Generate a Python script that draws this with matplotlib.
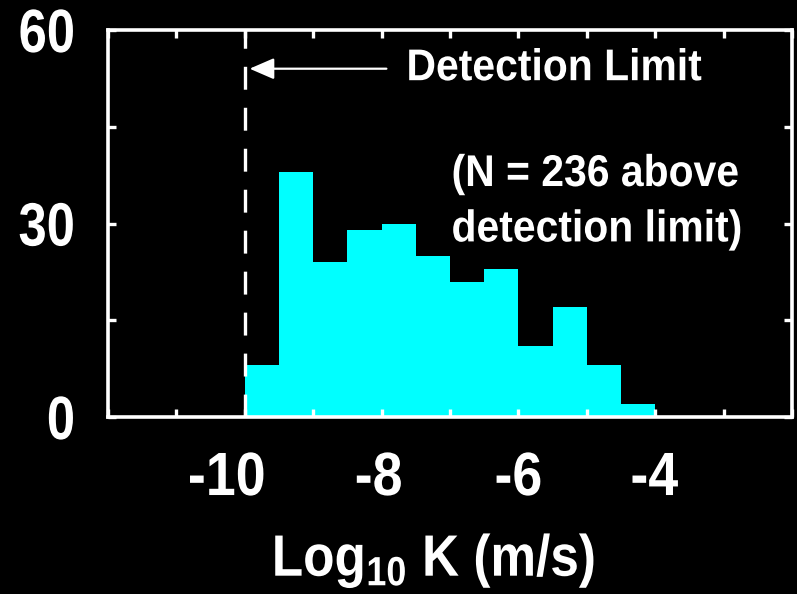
import matplotlib
matplotlib.use("Agg")
import matplotlib.pyplot as plt
from matplotlib.ticker import MultipleLocator, FixedLocator
from matplotlib.patheffects import AbstractPathEffect
from matplotlib.transforms import Affine2D, ScaledTranslation

# histogram of log10 hydraulic conductivity, 0.5 wide bins
bin_left = [-10.0, -9.5, -9.0, -8.5, -8.0, -7.5, -7.0, -6.5, -6.0, -5.5, -5.0, -4.5]
counts = [8, 38, 24, 29, 30, 25, 21, 23, 11, 17, 8, 2]
bin_width = 0.5
detection_limit = -10
x_ticks = [-10, -8, -6, -4]
y_ticks = [0, 30, 60]


class Narrow(AbstractPathEffect):
    """Draw text glyphs squeezed sideways, keeping the aligned edge in place."""

    def __init__(self, sx=0.88, anchor='center'):
        super().__init__()
        self.sx = sx
        self.anchor = anchor

    def draw_path(self, renderer, gc, tpath, affine, rgbFace=None):
        ext = tpath.get_extents(affine)
        x0 = {'left': ext.x0, 'center': 0.5 * (ext.x0 + ext.x1), 'right': ext.x1}[self.anchor]
        squeeze = Affine2D().translate(-x0, 0).scale(self.sx, 1).translate(x0, 0)
        renderer.draw_path(gc, tpath, affine + squeeze, rgbFace)


plt.rcParams['font.family'] = ['Liberation Sans', 'DejaVu Sans']
plt.rcParams['font.weight'] = 'bold'
plt.rcParams['axes.labelweight'] = 'bold'
plt.rcParams['mathtext.fontset'] = 'custom'
plt.rcParams['mathtext.rm'] = 'Liberation Sans:bold'
plt.rcParams['lines.scale_dashes'] = False

fig = plt.figure(figsize=(7.97, 5.94), dpi=100, facecolor='black')
ax = fig.add_axes([108 / 797, 1 - 417 / 594, 684 / 797, 387 / 594])
ax.set_facecolor('black')

ax.bar(bin_left, counts, width=bin_width, align='edge', color='#00ffff', linewidth=0, zorder=1)
ax.vlines(detection_limit, 0, 60, colors='white', linewidth=2.4,
          linestyles=(0, (16.5, 13)), zorder=3)

ax.set_xlim(-12, -2)
ax.set_ylim(0, 60)

ax.xaxis.set_major_locator(FixedLocator(x_ticks))
ax.xaxis.set_minor_locator(MultipleLocator(1))
ax.yaxis.set_major_locator(FixedLocator(y_ticks))
ax.yaxis.set_minor_locator(MultipleLocator(15))

for s in ax.spines.values():
    s.set_color('white')
    s.set_linewidth(2.6)

ax.tick_params(which='both', direction='in', length=6, width=2.4, color='white',
               top=True, right=True)
ax.tick_params(axis='x', which='major', labelsize=44, labelcolor='white', pad=24.5)
ax.tick_params(axis='y', which='major', labelsize=44, labelcolor='white', pad=23.5)
ax.set_xticklabels([str(v) for v in x_ticks])
ax.set_yticklabels([str(v) for v in y_ticks])

# nudge the x labels a little to the left, "-10" the most
x_shift_px = [-18, -3, 0, -1]
for lbl, dx in zip(ax.get_xticklabels(), x_shift_px):
    lbl.set_path_effects([Narrow(0.88, 'center')])
    lbl.set_transform(lbl.get_transform() + ScaledTranslation(dx / 100, 0, fig.dpi_scale_trans))
for lbl in ax.get_yticklabels():
    lbl.set_path_effects([Narrow(0.83, 'right')])

xlab = ax.set_xlabel(r'Log$_{\mathrm{10}}$ K (m/s)', color='white', fontsize=42)
xlab.set_verticalalignment('baseline')
xlab.set_path_effects([Narrow(0.88, 'center')])
ax.xaxis.set_label_coords((433.5 - 108) / 684, (417 - 576) / 387)

ax.annotate('', xy=(-9.93, 54), xytext=(-7.93, 54),
            arrowprops=dict(arrowstyle='-|>,head_length=1.5,head_width=0.65',
                            color='white', lw=1.6, shrinkA=0, shrinkB=0))
ax.text(-7.64, 54, 'Detection Limit', color='white', fontsize=32,
        ha='left', va='center', path_effects=[Narrow(0.92, 'left')])
ax.text(-6.98, 33.3, '(N = 236 above\ndetection limit)', color='white', fontsize=32,
        ha='left', va='center', linespacing=1.45, path_effects=[Narrow(0.92, 'left')])

fig.savefig('out.png', dpi=100, facecolor='black')
